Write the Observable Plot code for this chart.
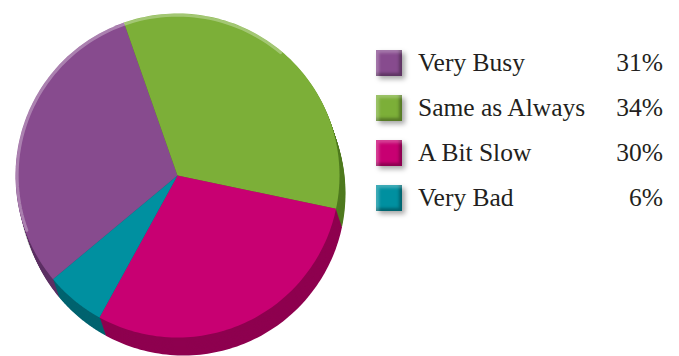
<!DOCTYPE html>
<html><head><meta charset="utf-8">
<script src="https://cdn.jsdelivr.net/npm/d3@7"></script>
<script src="https://cdn.jsdelivr.net/npm/@observablehq/plot@0.6"></script>
<style>
html,body{margin:0;padding:0;background:#fff;}
#wrap{position:relative;width:679px;height:356px;overflow:hidden;}
#chart{position:absolute;left:0;top:0;}
#legend{position:absolute;left:376px;top:40px;font-family:"Liberation Serif","DejaVu Serif",serif;color:#231f20;font-size:25.5px;}
.row{display:flex;align-items:center;height:45px;}
.sw{width:26px;height:26px;box-shadow:inset 3px 3px 3px rgba(255,255,255,0.25),inset -3px -3px 3px rgba(0,0,0,0.3),3px 3px 5px rgba(0,0,0,0.35);}
.lab{margin-left:16px;width:198px;white-space:nowrap;}
.pct{width:47px;text-align:right;}
</style></head>
<body><div id="wrap"><div id="chart"></div><div id="legend"></div></div>
<script>
const categories = ["Very Busy", "Same as Always", "A Bit Slow", "Very Bad"];
const values = [31, 34, 30, 6];
const labels = ["31%", "34%", "30%", "6%"];
const colors = ["#874b8e", "#7caf38", "#c80072", "#0090a0"];
const darkColors = ["#5c2f63", "#4f7a1f", "#8e004f", "#00636f"];

const startDeg = -129.8;
const total = d3.sum(values);
let acc = startDeg * Math.PI / 180;
const slices = categories.map((name, i) => {
  const a0 = acc, a1 = acc + values[i] / total * 2 * Math.PI;
  acc = a1;
  const pts = [[0, 0]];
  const n = 80;
  for (let k = 0; k <= n; k++) {
    const a = a0 + (a1 - a0) * k / n;
    pts.push([Math.sin(a), -Math.cos(a)]);
  }
  pts.push([0, 0]);
  return {type: "Feature", properties: {name, i}, geometry: {type: "Polygon", coordinates: [pts]}};
});
const circlePts = d3.range(0, 361, 2).map(d => [Math.sin(d * Math.PI / 180), -Math.cos(d * Math.PI / 180)]);
const disc = {type: "Polygon", coordinates: [circlePts]};
const rimArc = {type: "LineString", coordinates: d3.range(-110, 41, 2).map(d => [0.99 * Math.sin(d * Math.PI / 180), -0.99 * Math.cos(d * Math.PI / 180)])};
const domain = {type: "Polygon", coordinates: [[[-1,-1],[1,-1],[1,1],[-1,1],[-1,-1]]]};

const depthMarks = [];
const N = 16;
for (let k = N; k >= 1; k--) {
  depthMarks.push(Plot.geo(slices, {fill: d => darkColors[d.properties.i], dx: 6 * k / N, dy: 18 * k / N}));
}

const plot = Plot.plot({
  width: 360, height: 356,
  marginLeft: 15, marginTop: 13, marginRight: 21, marginBottom: 19,
  projection: {type: "identity", domain, clip: false},
  marks: [
    Plot.geo([disc], {fill: "#000", fillOpacity: 0.4, dx: 3, dy: 12, ariaLabel: "shadow"}),
    ...depthMarks,
    Plot.geo(slices, {fill: d => colors[d.properties.i]}),
    Plot.geo([rimArc], {fill: "none", stroke: "#fff", strokeOpacity: 0.3, strokeWidth: 3, ariaLabel: "rim"})
  ]
});
document.getElementById("chart").appendChild(plot);
const sh = plot.querySelector('g[aria-label="shadow"]');
if (sh) sh.style.filter = "blur(5px)";
const rim = plot.querySelector('g[aria-label="rim"]');
if (rim) rim.style.filter = "blur(1.2px)";

const legend = document.getElementById("legend");
categories.forEach((c, i) => {
  const row = document.createElement("div");
  row.className = "row";
  row.innerHTML = `<div class="sw" style="background:${colors[i]}"></div><div class="lab">${c}</div><div class="pct">${labels[i]}</div>`;
  legend.appendChild(row);
});
</script></body></html>
